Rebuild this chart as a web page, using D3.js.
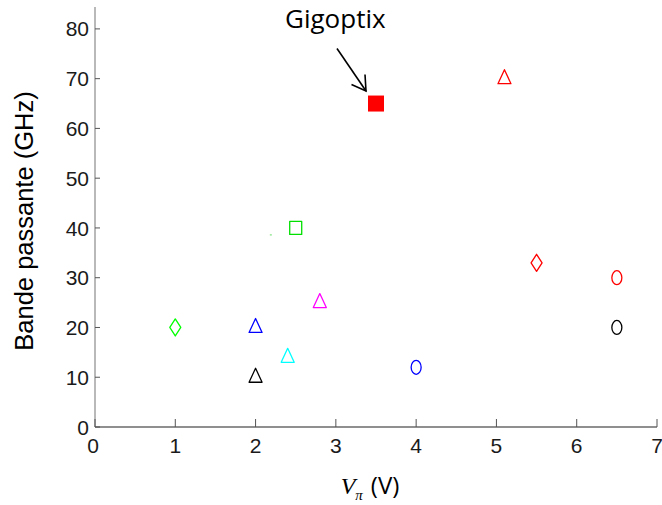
<!DOCTYPE html>
<html>
<head>
<meta charset="utf-8">
<script src="https://cdn.jsdelivr.net/npm/d3@7"></script>
<style>
  html, body { margin: 0; padding: 0; background: #fff; }
  svg { display: block; }
</style>
</head>
<body>
<svg id="chart" width="662" height="505"></svg>
<script>
// ---- data ----
const vpi       = [1.0, 2.5, 2.8, 2.0, 2.4, 2.0, 5.1, 4.0, 5.5, 6.5, 6.5];
const bandwidth = [20, 40, 25, 20, 14, 10, 70, 12, 33, 30, 20];
const markerShapes = ["diamond", "square", "triangle", "triangle", "triangle", "triangle",
                      "triangle", "circle", "diamond", "circle", "circle"];
const markerColors = ["#00ff00", "#00e000", "#ff00ff", "#0000ff", "#00ffff", "#000000",
                      "#ff0000", "#0000ff", "#ff0000", "#ff0000", "#000000"];
const speckVpi = [2.19];
const speckBw  = [38.6];
const highlightVpi = [3.5];
const highlightBw  = [65];
const highlightLabel = ["Gigoptix"];
const xTicks = [0, 1, 2, 3, 4, 5, 6, 7];
const yTicks = [0, 10, 20, 30, 40, 50, 60, 70, 80];

// ---- layout ----
const svg = d3.select("#chart");
const x = d3.scaleLinear().domain([0, 7]).range([95, 657]);
const y = d3.scaleLinear().domain([0, 84.4]).range([427, 7]);
const tickFont = "'Liberation Sans', Arial, sans-serif";

// y axis line (light gray)
svg.append("line")
  .attr("x1", x(0)).attr("x2", x(0))
  .attr("y1", y(0)).attr("y2", y(84.4))
  .attr("stroke", "#a8a8a8").attr("stroke-width", 1.6);

// x axis line (darker gray)
svg.append("line")
  .attr("x1", x(0)).attr("x2", x(7))
  .attr("y1", y(0)).attr("y2", y(0))
  .attr("stroke", "#6a6a6a").attr("stroke-width", 1.6);

// y ticks
svg.selectAll(".ytick").data(yTicks).enter().append("line")
  .attr("x1", x(0)).attr("x2", x(0) + 5)
  .attr("y1", d => y(d)).attr("y2", d => y(d))
  .attr("stroke", "#555").attr("stroke-width", 1);
svg.selectAll(".ylab").data(yTicks).enter().append("text")
  .attr("x", 89).attr("y", d => y(d))
  .attr("dy", "0.36em")
  .attr("text-anchor", "end")
  .attr("font-family", tickFont).attr("font-size", 21)
  .attr("fill", "#1a1a1a")
  .text(d => d);

// x ticks
svg.selectAll(".xtick").data(xTicks).enter().append("line")
  .attr("x1", d => x(d)).attr("x2", d => x(d))
  .attr("y1", y(0)).attr("y2", y(0) - 8)
  .attr("stroke", "#555").attr("stroke-width", 1);
svg.selectAll(".xlab").data(xTicks).enter().append("text")
  .attr("x", d => x(d) - (d === 0 ? 2 : 0)).attr("y", 453)
  .attr("text-anchor", "middle")
  .attr("font-family", tickFont).attr("font-size", 21)
  .attr("fill", "#1a1a1a")
  .text(d => d);

// y axis title
svg.append("text")
  .attr("transform", "translate(33,221) rotate(-90)")
  .attr("text-anchor", "middle")
  .attr("font-family", tickFont).attr("font-size", 25.5)
  .attr("fill", "#000")
  .text("Bande passante (GHz)");

// x axis title: V_pi (V)
const xt = svg.append("text")
  .attr("x", 370).attr("y", 494)
  .attr("text-anchor", "middle")
  .attr("fill", "#000");
xt.append("tspan")
  .attr("font-family", "'Liberation Serif', 'Times New Roman', serif")
  .attr("font-style", "italic").attr("font-size", 24)
  .text("V");
xt.append("tspan")
  .attr("font-family", "'Liberation Serif', 'Times New Roman', serif")
  .attr("font-style", "italic").attr("font-size", 15)
  .attr("dy", 6)
  .text("\u03c0");
xt.append("tspan")
  .attr("font-family", "'Open Sans', sans-serif")
  .attr("font-size", 24)
  .attr("dy", -6).attr("dx", 8)
  .text("(V)");

// marker paths
function markerPath(shape) {
  switch (shape) {
    case "triangle": return "M0,-9L6.5,5L-6.5,5Z";
    case "diamond":  return "M0,-8.5L5.5,0L0,8.5L-5.5,0Z";
    case "square":   return "M-6,-6.5L6,-6.5L6,6.5L-6,6.5Z";
    case "circle":   return "M0,-7A5,7 0 1,1 0,7A5,7 0 1,1 0,-7Z";
  }
}

svg.selectAll(".pt").data(vpi.map((v, i) => i)).enter().append("path")
  .attr("transform", i => `translate(${x(vpi[i])},${y(bandwidth[i])})`)
  .attr("d", i => markerPath(markerShapes[i]))
  .attr("fill", "none")
  .attr("stroke", i => markerColors[i])
  .attr("stroke-width", 1.3)
  .attr("stroke-linejoin", "round");

// tiny speck
svg.selectAll(".speck").data(speckVpi.map((v, i) => i)).enter().append("rect")
  .attr("x", i => x(speckVpi[i]) - 1).attr("y", i => y(speckBw[i]) - 0.5)
  .attr("width", 2).attr("height", 1)
  .attr("fill", "#66dd66");

// highlighted point (Gigoptix)
svg.selectAll(".hl").data(highlightVpi.map((v, i) => i)).enter().append("rect")
  .attr("x", i => x(highlightVpi[i]) - 8).attr("y", i => y(highlightBw[i]) - 8)
  .attr("width", 16).attr("height", 16)
  .attr("fill", "#ff0000");

// annotation label and arrow
highlightVpi.forEach((v, i) => {
  const px = x(v), py = y(highlightBw[i]);
  const tipX = px - 10, tipY = py - 12.5;
  const tailX = px - 39, tailY = py - 55;
  svg.append("line")
    .attr("x1", tailX).attr("y1", tailY).attr("x2", tipX).attr("y2", tipY)
    .attr("stroke", "#000").attr("stroke-width", 1.6);
  svg.append("path")
    .attr("d", `M${tipX - 14.5},${tipY - 6.5}L${tipX},${tipY}L${tipX - 1},${tipY - 16.5}`)
    .attr("fill", "none").attr("stroke", "#000").attr("stroke-width", 1.6);
  svg.append("text")
    .attr("x", px - 91).attr("y", py - 76)
    .attr("font-family", "'Open Sans', sans-serif").attr("font-size", 26)
    .attr("fill", "#000")
    .text(highlightLabel[i]);
});
</script>
</body>
</html>
